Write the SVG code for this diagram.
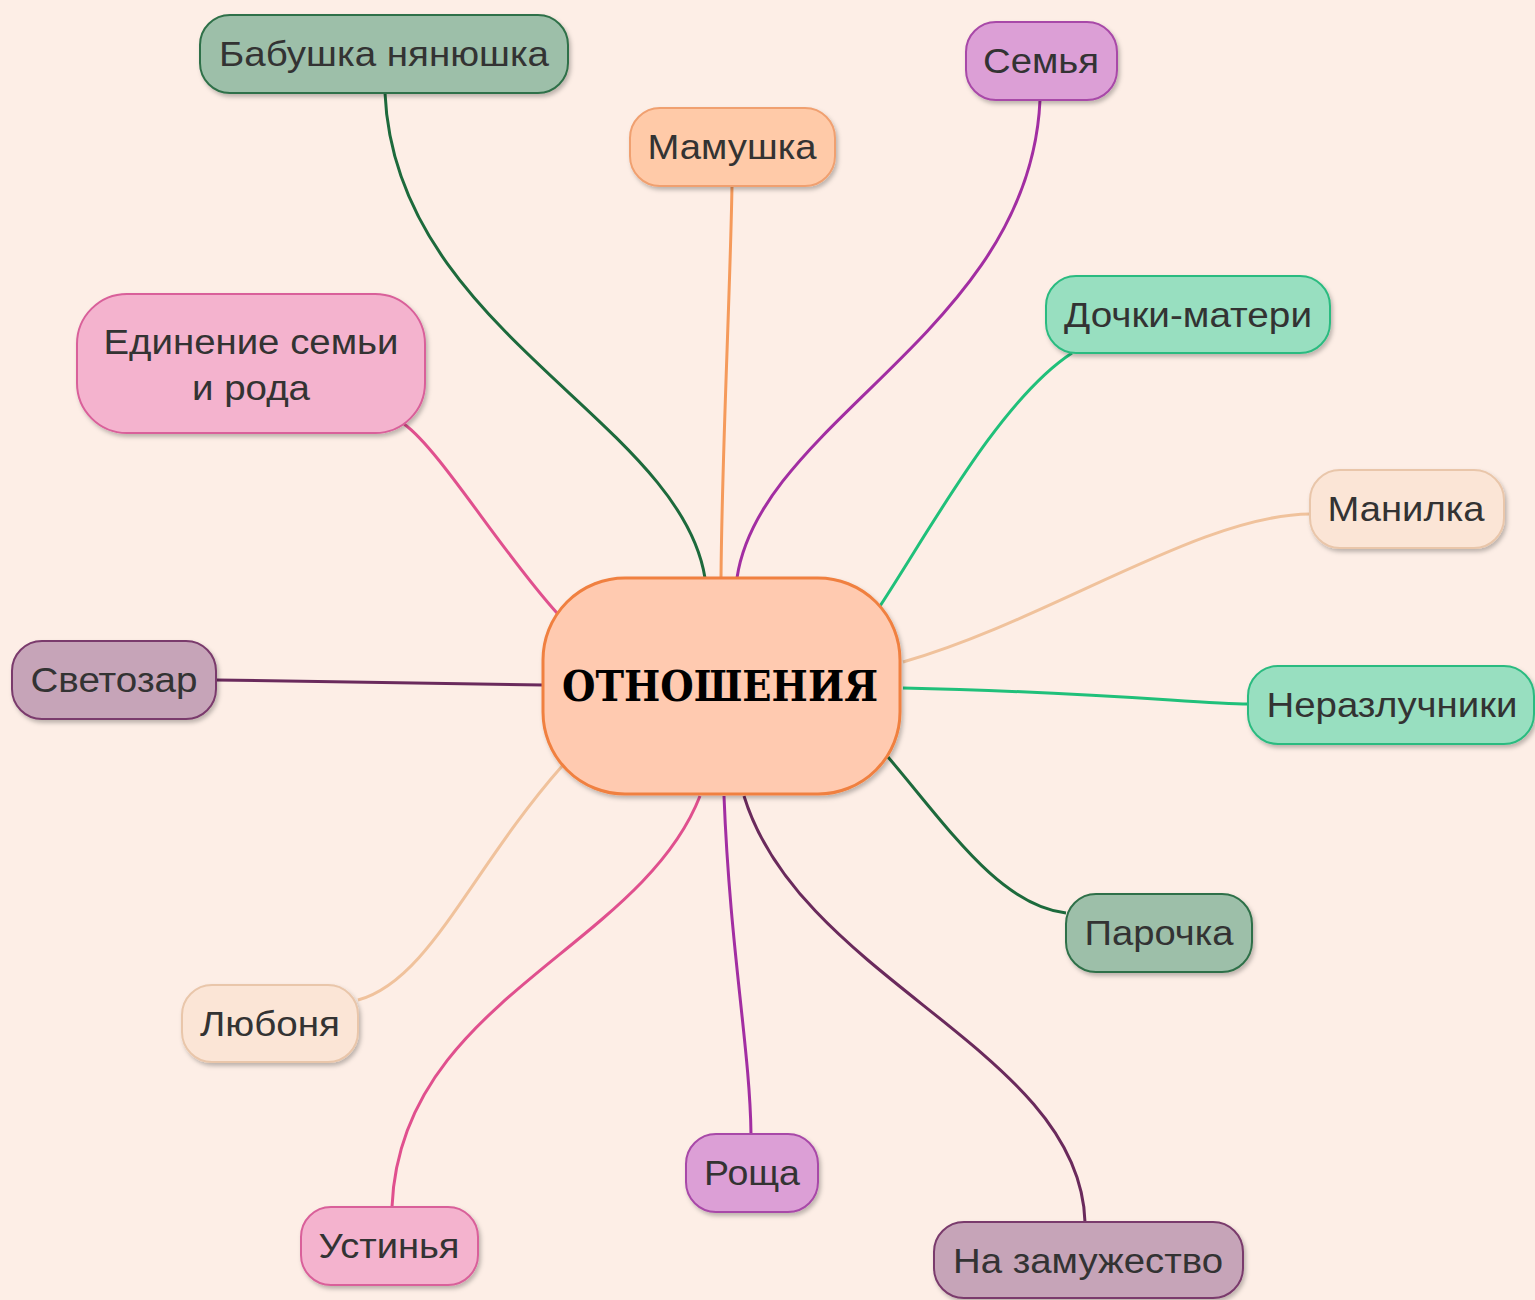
<svg xmlns="http://www.w3.org/2000/svg" width="1535" height="1300" viewBox="0 0 1535 1300">
<defs>
<filter id="sh" x="-10%" y="-10%" width="120%" height="130%">
<feDropShadow dx="2" dy="3" stdDeviation="2" flood-color="#000" flood-opacity="0.25"/>
</filter>
<style>
.n rect{stroke-width:2;filter:url(#sh)}
.n text{font-family:"Liberation Sans",Arial,sans-serif;font-size:35px;fill:#333;text-anchor:middle}
.c path{fill:none;stroke-width:3}
.dg rect{fill:#9dbfa9;stroke:#2f7048}
.or rect{fill:#ffcaa8;stroke:#f0a070}
.pu rect{fill:#dc9fd6;stroke:#a848a8}
.gr rect{fill:#98dfc0;stroke:#2cbb80}
.lt rect{fill:#fbe5d6;stroke:#e9c6aa}
.pk rect{fill:#f4b3ce;stroke:#d9609a}
.mv rect{fill:#c6a4b8;stroke:#7a3a6c}
</style>
</defs>
<rect width="1535" height="1300" fill="#fdeee6"/>
<g id="connectors" class="c">
<path d="M385,93 C395,330 680,420 705,578" stroke="#1d6a3c"/>
<path d="M732,186 C730,300 722,450 721,578" stroke="#f59a5b"/>
<path d="M1040,100 C1030,330 760,420 737,578" stroke="#a22ea2"/>
<path d="M1072,353 C1000,400 930,530 880,606" stroke="#20c07a"/>
<path d="M1310,514 C1200,515 1050,620 903,662" stroke="#f0c29c" stroke-width="2.5"/>
<path d="M903,688 C1100,692 1200,704 1248,704" stroke="#20c07a"/>
<path d="M888,757 C950,830 1000,905 1066,913" stroke="#1d6a3c"/>
<path d="M744,796 C800,980 1080,1050 1085,1222" stroke="#6a2a5c"/>
<path d="M724,796 C730,950 750,1050 751,1134" stroke="#a22ea2"/>
<path d="M700,796 C640,950 400,1000 392,1207" stroke="#e0508e"/>
<path d="M563,765 C470,870 430,980 358,1000" stroke="#f0c29c" stroke-width="2.5"/>
<path d="M216,680 L543,685" stroke="#6a2a5c"/>
<path d="M404,424 C440,450 500,550 557,613" stroke="#e0508e"/>
</g>
<g id="center" class="n">
<rect x="543" y="578" width="357" height="216" rx="82" fill="#ffcab0" stroke="#f08040" style="stroke-width:3"/>
<text x="720" y="701" textLength="316" lengthAdjust="spacingAndGlyphs" style="font-family:'DejaVu Serif','Liberation Serif',serif;font-weight:bold;font-size:42px;fill:#000">ОТНОШЕНИЯ</text>
</g>
<g id="n1" class="n dg"><rect x="200" y="15" width="368" height="78" rx="30"/><text x="384" y="66" textLength="330" lengthAdjust="spacingAndGlyphs">Бабушка нянюшка</text></g>
<g id="n2" class="n or"><rect x="630" y="108" width="205" height="78" rx="30"/><text x="732" y="159" textLength="169" lengthAdjust="spacingAndGlyphs">Мамушка</text></g>
<g id="n3" class="n pu"><rect x="966" y="22" width="151" height="78" rx="30"/><text x="1041" y="73" textLength="116" lengthAdjust="spacingAndGlyphs">Семья</text></g>
<g id="n4" class="n gr"><rect x="1046" y="276" width="284" height="77" rx="30"/><text x="1188" y="327" textLength="248" lengthAdjust="spacingAndGlyphs">Дочки-матери</text></g>
<g id="n5" class="n lt"><rect x="1310" y="470" width="194" height="78" rx="30"/><text x="1406" y="521" textLength="157" lengthAdjust="spacingAndGlyphs">Манилка</text></g>
<g id="n6" class="n gr"><rect x="1248" y="666" width="286" height="78" rx="30"/><text x="1392" y="717" textLength="251" lengthAdjust="spacingAndGlyphs">Неразлучники</text></g>
<g id="n7" class="n dg"><rect x="1066" y="894" width="186" height="78" rx="30"/><text x="1159" y="945" textLength="149" lengthAdjust="spacingAndGlyphs">Парочка</text></g>
<g id="n8" class="n mv"><rect x="934" y="1222" width="309" height="76" rx="30"/><text x="1088" y="1273" textLength="270" lengthAdjust="spacingAndGlyphs">На замужество</text></g>
<g id="n9" class="n pu"><rect x="686" y="1134" width="132" height="78" rx="30"/><text x="752" y="1185" textLength="96" lengthAdjust="spacingAndGlyphs">Роща</text></g>
<g id="n10" class="n pk"><rect x="301" y="1207" width="177" height="78" rx="30"/><text x="389" y="1258" textLength="141" lengthAdjust="spacingAndGlyphs">Устинья</text></g>
<g id="n11" class="n lt"><rect x="182" y="985" width="176" height="77" rx="30"/><text x="270" y="1036" textLength="140" lengthAdjust="spacingAndGlyphs">Любоня</text></g>
<g id="n12" class="n mv"><rect x="12" y="641" width="204" height="78" rx="30"/><text x="114" y="692" textLength="167" lengthAdjust="spacingAndGlyphs">Светозар</text></g>
<g id="n13" class="n pk"><rect x="77" y="294" width="348" height="139" rx="50"/><text x="251" y="354" textLength="295" lengthAdjust="spacingAndGlyphs">Единение семьи</text><text x="251" y="400" textLength="118" lengthAdjust="spacingAndGlyphs">и рода</text></g>
</svg>
